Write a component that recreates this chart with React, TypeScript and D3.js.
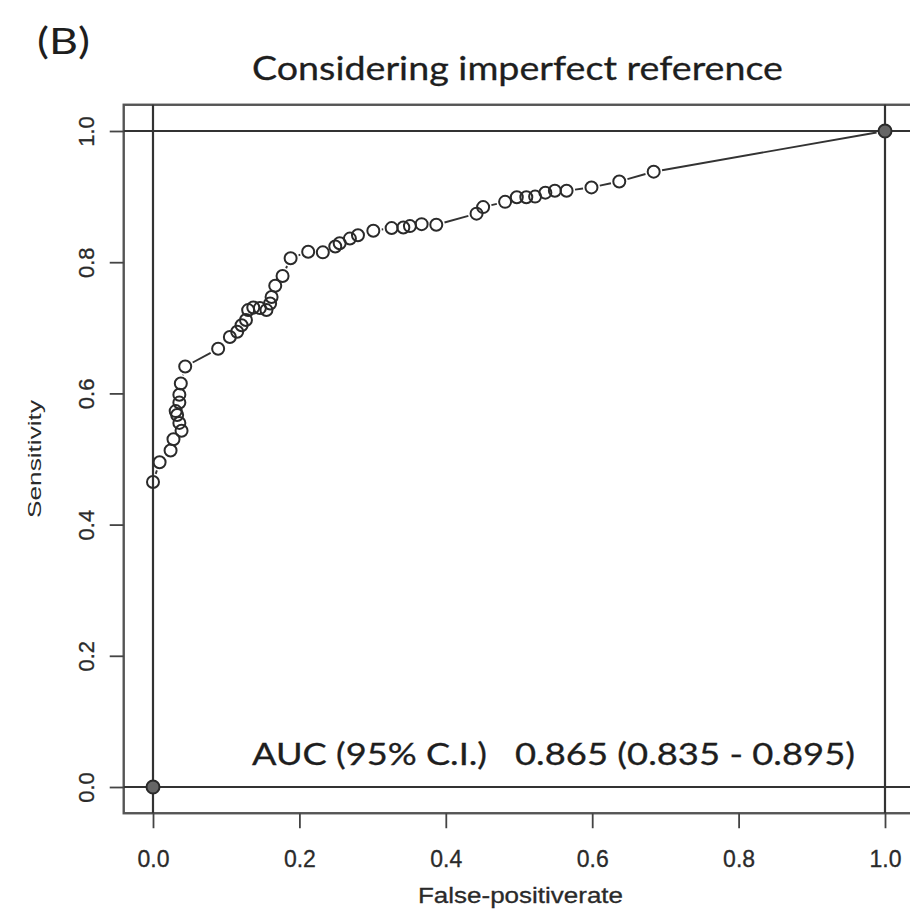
import { useEffect, useRef } from 'react';
import * as d3 from 'd3';

// ROC points (first and last are the filled end points)
const fpr = [
  0, 0, 0.009, 0.024, 0.028, 0.039, 0.036, 0.033, 0.031, 0.036, 0.036, 0.038, 0.044,
  0.089, 0.105, 0.115, 0.121, 0.127, 0.130, 0.137, 0.146, 0.155, 0.160, 0.162, 0.167,
  0.177, 0.188, 0.212, 0.232, 0.249, 0.255, 0.269, 0.280, 0.301, 0.326, 0.342, 0.351,
  0.367, 0.387, 0.442, 0.451, 0.481, 0.497, 0.510, 0.522, 0.536, 0.549, 0.565, 0.599,
  0.637, 0.684, 1,
];
const sensitivity = [
  0, 0.465, 0.495, 0.513, 0.530, 0.543, 0.555, 0.567, 0.573, 0.586, 0.598, 0.615, 0.641,
  0.668, 0.686, 0.694, 0.704, 0.712, 0.727, 0.731, 0.730, 0.727, 0.737, 0.747, 0.764,
  0.779, 0.806, 0.816, 0.815, 0.824, 0.829, 0.836, 0.841, 0.848, 0.852, 0.853, 0.855,
  0.858, 0.857, 0.874, 0.884, 0.892, 0.899, 0.899, 0.900, 0.906, 0.909, 0.909, 0.914,
  0.923, 0.938, 1,
];
const xTicks = [0, 0.2, 0.4, 0.6, 0.8, 1.0];
const yTicks = [0, 0.2, 0.4, 0.6, 0.8, 1.0];
const refLines = [0, 1];

const panelLabel = '(B)';
const title = 'Considering imperfect reference';
const aucLabel = 'AUC (95% C.I.)';
const aucValue = '0.865 (0.835 - 0.895)';
const xTitle = 'False-positiverate';
const yTitle = 'Sensitivity';

const SANS = "'Liberation Sans', Arial, sans-serif";
const HUMANIST = "Lato, 'Open Sans', sans-serif";

const App = () => {
  const svgRef = useRef<SVGSVGElement>(null);

  useEffect(() => {
    const width = 910;
    const height = 912;

    const x = d3.scaleLinear().domain([0, 1]).range([153, 885]);
    const y = d3.scaleLinear().domain([0, 1]).range([787, 131]);

    const svg = d3.select(svgRef.current);
    svg.selectAll('*').remove();
    svg.attr('width', width).attr('height', height);

    svg.append('rect').attr('width', width).attr('height', height).attr('fill', '#fff');

    // plot box, R style 4% padding on each side
    const bx0 = x(-0.04), bx1 = x(1.04), by0 = y(-0.04), by1 = y(1.04);
    svg.append('rect')
      .attr('x', bx0).attr('y', by1)
      .attr('width', bx1 - bx0).attr('height', by0 - by1)
      .attr('fill', 'none')
      .attr('stroke', '#555')
      .attr('stroke-width', 2.4);

    // reference lines at 0 and 1
    refLines.forEach(v => {
      svg.append('line')
        .attr('x1', bx0).attr('x2', bx1).attr('y1', y(v)).attr('y2', y(v))
        .attr('stroke', '#333').attr('stroke-width', 2.2);
      svg.append('line')
        .attr('x1', x(v)).attr('x2', x(v)).attr('y1', by1).attr('y2', by0)
        .attr('stroke', '#333').attr('stroke-width', 2.2);
    });

    // x axis
    const gx = svg.append('g')
      .attr('transform', `translate(0, ${by0})`)
      .call(d3.axisBottom(x).tickValues(xTicks).tickSize(15).tickPadding(22).tickFormat(d3.format('.1f')));
    gx.select('.domain').remove();
    gx.selectAll('line').attr('stroke', '#444').attr('stroke-width', 1.8);
    gx.selectAll('text')
      .attr('font-family', SANS).attr('font-size', 23).attr('fill', '#2a2a2a')
      .attr('stroke', '#2a2a2a').attr('stroke-width', 0.3);

    // y axis, labels parallel to the axis
    const gy = svg.append('g')
      .attr('transform', `translate(${bx0}, 0)`)
      .call(d3.axisLeft(y).tickValues(yTicks).tickSize(14).tickFormat(d3.format('.1f')));
    gy.select('.domain').remove();
    gy.selectAll('line').attr('stroke', '#444').attr('stroke-width', 1.8);
    gy.selectAll('text')
      .attr('x', 0).attr('dy', '0.35em')
      .attr('text-anchor', 'middle')
      .attr('transform', 'translate(-37, 0) rotate(-90)')
      .attr('font-family', SANS).attr('font-size', 22).attr('fill', '#2a2a2a')
      .attr('stroke', '#2a2a2a').attr('stroke-width', 0.3);

    // curve: type "b" segments with gaps around the circles
    const pts = fpr.map((f, i) => [x(f), y(sensitivity[i])] as [number, number]);
    const gap = 8.5;
    const segs = svg.append('g').attr('stroke', '#333').attr('stroke-width', 1.9);
    for (let i = 0; i < pts.length - 1; i++) {
      const [ax, ay] = pts[i];
      const [cx, cy] = pts[i + 1];
      const d = Math.hypot(cx - ax, cy - ay);
      if (d <= gap * 2) continue;
      const ux = (cx - ax) / d, uy = (cy - ay) / d;
      segs.append('line')
        .attr('x1', ax + ux * gap).attr('y1', ay + uy * gap)
        .attr('x2', cx - ux * gap).attr('y2', cy - uy * gap);
    }

    svg.append('g')
      .selectAll('circle')
      .data(pts)
      .join('circle')
      .attr('cx', d => d[0])
      .attr('cy', d => d[1])
      .attr('r', (_, i) => (i === 0 || i === pts.length - 1 ? 6.5 : 6))
      .attr('fill', (_, i) => (i === 0 || i === pts.length - 1 ? '#666' : 'none'))
      .attr('stroke', '#2a2a2a')
      .attr('stroke-width', 2);

    // texts
    svg.append('text')
      .attr('x', 37).attr('y', 54)
      .attr('font-family', HUMANIST).attr('font-size', 37).attr('fill', '#1e1e1e')
      .attr('textLength', 53).attr('lengthAdjust', 'spacingAndGlyphs')
      .text(panelLabel);

    svg.append('text')
      .attr('x', 252).attr('y', 80)
      .attr('font-family', HUMANIST).attr('font-size', 33).attr('fill', '#1e1e1e')
      .attr('stroke', '#1e1e1e').attr('stroke-width', 0.3)
      .attr('textLength', 531).attr('lengthAdjust', 'spacingAndGlyphs')
      .text(title);

    svg.append('text')
      .attr('x', 252).attr('y', 765)
      .attr('font-family', HUMANIST).attr('font-size', 30).attr('fill', '#1e1e1e')
      .attr('stroke', '#1e1e1e').attr('stroke-width', 0.3)
      .attr('textLength', 235).attr('lengthAdjust', 'spacingAndGlyphs')
      .text(aucLabel);

    svg.append('text')
      .attr('x', 515).attr('y', 765)
      .attr('font-family', HUMANIST).attr('font-size', 30).attr('fill', '#1e1e1e')
      .attr('stroke', '#1e1e1e').attr('stroke-width', 0.3)
      .attr('textLength', 340).attr('lengthAdjust', 'spacingAndGlyphs')
      .text(aucValue);

    svg.append('text')
      .attr('x', 418).attr('y', 903)
      .attr('font-family', SANS).attr('font-size', 22).attr('fill', '#2a2a2a')
      .attr('stroke', '#2a2a2a').attr('stroke-width', 0.3)
      .attr('textLength', 205).attr('lengthAdjust', 'spacingAndGlyphs')
      .text(xTitle);

    svg.append('text')
      .attr('transform', `translate(41, ${(by0 + by1) / 2}) rotate(-90)`)
      .attr('text-anchor', 'middle')
      .attr('font-family', SANS).attr('font-size', 19).attr('fill', '#2a2a2a')
      .attr('textLength', 118).attr('lengthAdjust', 'spacingAndGlyphs')
      .text(yTitle);
  }, []);

  return <svg ref={svgRef} style={{ position: 'absolute', left: 0, top: 0 }} />;
};

export default App;
